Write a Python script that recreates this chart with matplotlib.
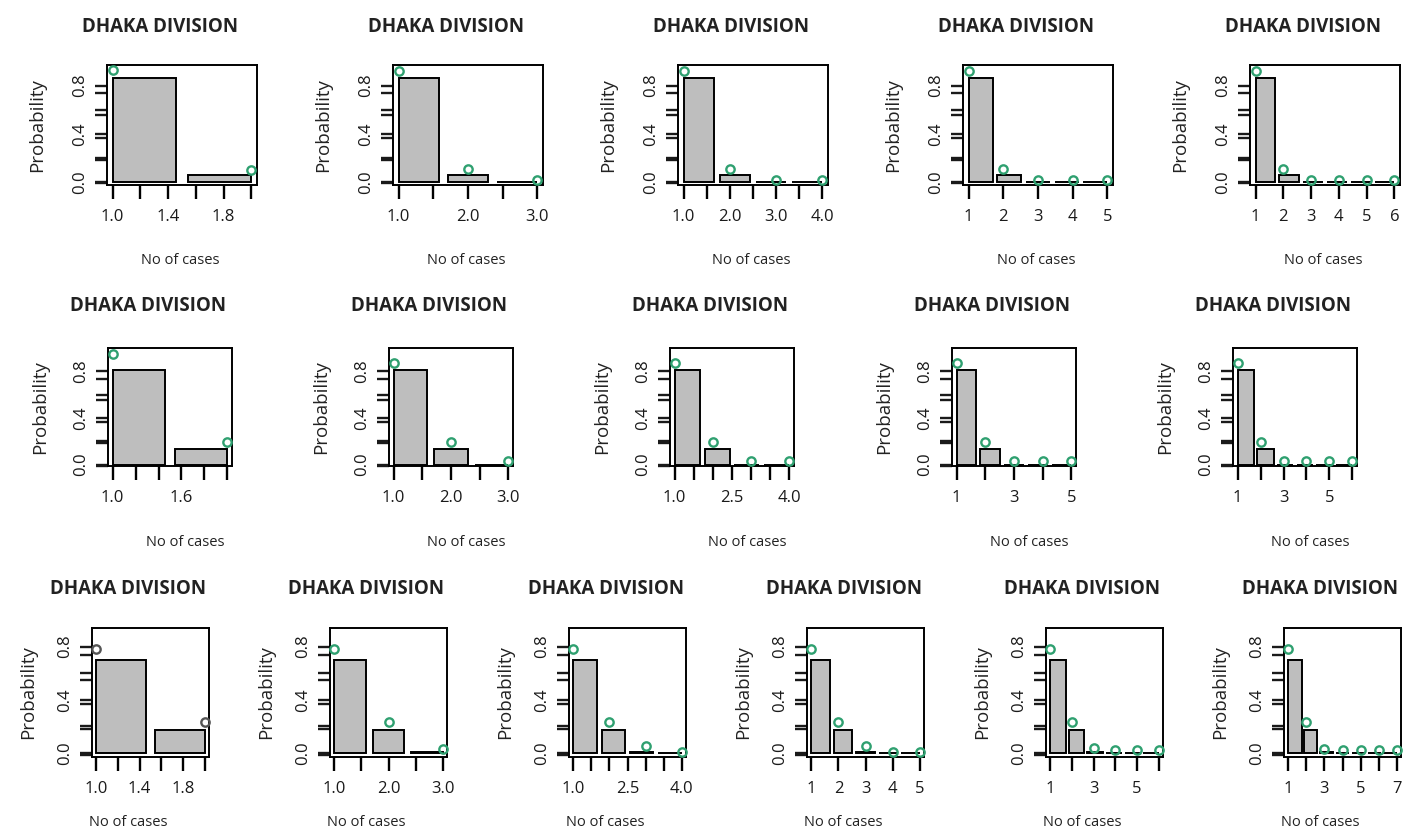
import numpy as np
import matplotlib

matplotlib.use("Agg")
import matplotlib.pyplot as plt

W, H = 1411, 833

TITLE = "DHAKA DIVISION"
YLABEL = "Probability"
XLABEL = "No of cases"

# row 1
ROW1_N = [2, 3, 4, 5, 6]
ROW1_BARS = [
    [0.86, 0.06],
    [0.86, 0.06, 0.0],
    [0.86, 0.06, 0.0, 0.0],
    [0.86, 0.06, 0.0, 0.0, 0.0],
    [0.86, 0.06, 0.0, 0.0, 0.0, 0.0],
]
ROW1_PTS = [
    [0.93, 0.10],
    [0.92, 0.11, 0.015],
    [0.92, 0.11, 0.015, 0.015],
    [0.92, 0.11, 0.015, 0.015, 0.015],
    [0.92, 0.11, 0.015, 0.015, 0.015, 0.015],
]
ROW1_XSTEP = [0.2, 0.5, 0.5, 1, 1]
ROW1_XLABELS = [
    ["1.0", "1.4", "1.8"],
    ["1.0", "2.0", "3.0"],
    ["1.0", "2.0", "3.0", "4.0"],
    ["1", "2", "3", "4", "5"],
    ["1", "2", "3", "4", "5", "6"],
]

# row 2
ROW2_N = [2, 3, 4, 5, 6]
ROW2_BARS = [
    [0.81, 0.13],
    [0.81, 0.13, 0.0],
    [0.81, 0.13, 0.0, 0.0],
    [0.81, 0.13, 0.0, 0.0, 0.0],
    [0.81, 0.13, 0.0, 0.0, 0.0, 0.0],
]
ROW2_PTS = [
    [0.95, 0.19],
    [0.87, 0.19, 0.03],
    [0.87, 0.19, 0.03, 0.03],
    [0.87, 0.19, 0.03, 0.03, 0.03],
    [0.87, 0.19, 0.03, 0.03, 0.03, 0.03],
]
ROW2_XSTEP = [0.2, 0.5, 0.5, 1, 1]
ROW2_XLABELS = [
    ["1.0", "1.6"],
    ["1.0", "2.0", "3.0"],
    ["1.0", "2.5", "4.0"],
    ["1", "3", "5"],
    ["1", "3", "5"],
]

# row 3
ROW3_N = [2, 3, 4, 5, 6, 7]
ROW3_BARS = [
    [0.70, 0.17],
    [0.70, 0.17, 0.01],
    [0.70, 0.17, 0.01, 0.0],
    [0.70, 0.17, 0.01, 0.0, 0.0],
    [0.70, 0.17, 0.01, 0.0, 0.0, 0.0],
    [0.70, 0.17, 0.01, 0.0, 0.0, 0.0, 0.0],
]
ROW3_PTS = [
    [0.78, 0.23],
    [0.78, 0.23, 0.03],
    [0.78, 0.23, 0.05, 0.01],
    [0.78, 0.23, 0.05, 0.01, 0.01],
    [0.78, 0.23, 0.04, 0.02, 0.02, 0.02],
    [0.78, 0.23, 0.03, 0.02, 0.02, 0.02, 0.02],
]
ROW3_XSTEP = [0.2, 0.5, 0.5, 1, 1, 1]
ROW3_XLABELS = [
    ["1.0", "1.4", "1.8"],
    ["1.0", "2.0", "3.0"],
    ["1.0", "2.5", "4.0"],
    ["1", "2", "3", "4", "5"],
    ["1", "3", "5"],
    ["1", "3", "5", "7"],
]

# layout in pixels
ROWS = [
    dict(n=ROW1_N, bars=ROW1_BARS, pts=ROW1_PTS, step=ROW1_XSTEP, labs=ROW1_XLABELS,
         lefts=[107, 393, 678, 963, 1250], width=150, top=65, bottom=185,
         ylim=(-0.025, 0.97), title_y=27, xlab_dy=75, xlab_dx=-2, ylab_dx=-70),
    dict(n=ROW2_N, bars=ROW2_BARS, pts=ROW2_PTS, step=ROW2_XSTEP, labs=ROW2_XLABELS,
         lefts=[108, 389, 670, 952, 1233], width=124, top=348, bottom=466,
         ylim=(-0.01, 1.0), title_y=306, xlab_dy=76, xlab_dx=15, ylab_dx=-68),
    dict(n=ROW3_N, bars=ROW3_BARS, pts=ROW3_PTS, step=ROW3_XSTEP, labs=ROW3_XLABELS,
         lefts=[92, 330, 569, 807, 1046, 1284], width=117, top=628, bottom=757,
         ylim=(-0.03, 0.94), title_y=589, xlab_dy=66, xlab_dx=-22, ylab_dx=-64),
]

BAR_COLOR = "#bebebe"
PT_COLOR = "#2fa070"
LW = 1.4
TICK_W = 1.7

plt.rcParams["font.family"] = ["Open Sans", "DejaVu Sans"]

fig = plt.figure(figsize=(W / 100, H / 100), dpi=100)


def draw_panel(ax, n, bars, pts, step, labs, ylim, pt_color):
    pad = 0.04 * (n - 1)
    # bar positions like R barplot(space=0.2) mapped onto 1..n
    w = (n - 1) / (1.2 * n - 0.2)
    lefts = [1 + 1.2 * k * w for k in range(len(bars))]
    ax.bar(lefts, bars, width=w, align="edge", color=BAR_COLOR,
           edgecolor="black", linewidth=LW, zorder=2)
    xs = np.arange(1, len(pts) + 1)
    ax.plot(xs, pts, "o", mfc="none", mec=pt_color, ms=6, mew=1.7,
            clip_on=False, zorder=3)
    ax.set_xlim(1 - pad, n + pad)
    ax.set_ylim(*ylim)

    ticks = np.round(np.arange(1, n + step / 2, step), 3)
    shown = [float(s) for s in labs]
    tlabels = []
    for t in ticks:
        hit = [s for s, v in zip(labs, shown) if abs(v - t) < 1e-6]
        tlabels.append(hit[0] if hit else "")
    ax.set_xticks(ticks)
    ax.set_xticklabels(tlabels)

    yt = [0.0, 0.2, 0.4, 0.6, 0.8]
    ax.set_yticks(yt)
    ax.set_yticklabels(["0.0", "", "0.4", "", "0.8"])
    # second (slightly rescaled) axis drawn on top, as in the original
    ax.set_yticks([v * 0.92 for v in yt[1:]] + [-0.012], minor=True)

    for s in ax.spines.values():
        s.set_linewidth(LW)
    ax.tick_params(axis="both", which="both", direction="out", width=TICK_W,
                   length=8.5, labelsize=12, colors="#1a1a1a")
    ax.tick_params(axis="x", pad=7, length=10, color="black")
    ax.tick_params(axis="y", pad=11)
    for lab in ax.get_yticklabels():
        lab.set_rotation(90)
        lab.set_ha("center")
        lab.set_va("center")


for ri, row in enumerate(ROWS):
    for pi, left in enumerate(row["lefts"]):
        x0 = left / W
        y0 = 1 - row["bottom"] / H
        ax = fig.add_axes([x0, y0, row["width"] / W, (row["bottom"] - row["top"]) / H])
        pc = "#555555" if (ri == 2 and pi == 0) else PT_COLOR
        draw_panel(ax, row["n"][pi], row["bars"][pi], row["pts"][pi],
                   row["step"][pi], row["labs"][pi], row["ylim"], pc)
        cx = left + row["width"] / 2
        cy = (row["top"] + row["bottom"]) / 2
        fig.text((cx - 22) / W, 1 - row["title_y"] / H, TITLE, ha="center",
                 va="center", fontsize=13.5, fontweight="bold", color="#222222")
        fig.text((cx + row["xlab_dx"]) / W, 1 - (row["bottom"] + row["xlab_dy"]) / H,
                 XLABEL, ha="center", va="center", fontsize=10.5, color="#222222")
        fig.text((left + row["ylab_dx"]) / W, 1 - cy / H, YLABEL, ha="center",
                 va="center", rotation=90, fontsize=13.5, color="#222222")

fig.savefig("out.png", dpi=100)
plt.close(fig)
